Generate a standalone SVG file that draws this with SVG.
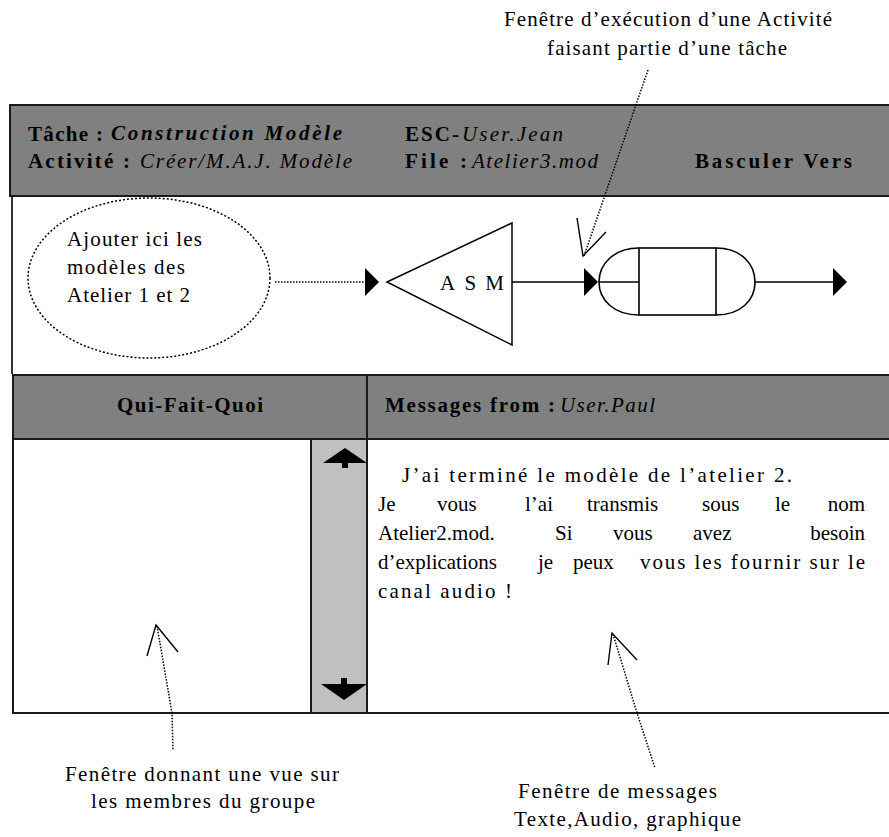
<svg xmlns="http://www.w3.org/2000/svg" width="889" height="837" viewBox="0 0 889 837">
<style>
text{font-family:"Liberation Serif","Times New Roman",serif;font-size:21px;fill:#000}
.b{font-weight:bold}
.i{font-style:italic}
.bi{font-weight:bold;font-style:italic}
.hdr{fill:#808080;stroke:#1a1a1a;stroke-width:2}
.ln{stroke:#000;stroke-width:1.6;fill:none}
.dot{stroke:#000;stroke-width:1.5;fill:none;stroke-dasharray:1.5 1.5}
.ah{fill:#000}
.open{stroke:#000;stroke-width:1.4;fill:none}
</style>
<rect width="889" height="837" fill="#fff"/>

<g id="note-top">
<text x="668" y="26" text-anchor="middle" textLength="328">Fenêtre d’exécution d’une Activité</text>
<text x="667" y="55" text-anchor="middle" textLength="240">faisant partie d’une tâche</text>
</g>

<g id="header">
<rect class="hdr" x="10" y="105" width="885" height="91"/>
<text x="28" y="141" class="b" textLength="75">Tâche :</text>
<text x="111" y="140" class="bi" textLength="231">Construction Modèle</text>
<text x="28" y="168" class="b" textLength="102">Activité :</text>
<text x="140" y="168" class="i" font-size="19" textLength="212">Créer/M.A.J. Modèle</text>
<text x="405" y="141" class="b" textLength="54">ESC-</text>
<text x="462" y="141" class="i" font-size="19" textLength="101">User.Jean</text>
<text x="405" y="168" class="b" textLength="62">File :</text>
<text x="472" y="168" class="i" font-size="19" textLength="126">Atelier3.mod</text>
<text x="695" y="168" class="b" textLength="157">Basculer Vers</text>
</g>

<g id="exec-area">
<line class="ln" x1="12" y1="196" x2="12" y2="374" stroke-width="2"/>
</g>

<g id="ellipse-note">
<ellipse cx="149" cy="278" rx="121" ry="80" fill="none" stroke="#000" stroke-width="1.5" stroke-dasharray="2 2"/>
<text x="67" y="246" textLength="135">Ajouter ici les</text>
<text x="67" y="274" textLength="118">modèles des</text>
<text x="67" y="302" textLength="123">Atelier 1 et 2</text>
</g>

<g id="asm">
<polygon points="387,282 512,223 512,345" fill="#fff" stroke="#000" stroke-width="1.5"/>
<text x="472" y="290" text-anchor="middle" textLength="64">ASM</text>
</g>

<g id="activity">
<path class="ln" d="M639,248 C614,248 599,264 599,282 C599,300 614,315 639,315"/>
<path class="ln" d="M716,248 C741,248 755,264 755,282 C755,300 741,315 716,315"/>
<rect class="ln" x="639" y="248" width="77" height="67"/>
<line class="ln" x1="599" y1="282" x2="639" y2="282"/>
</g>

<g id="qui-fait-quoi">
<rect class="hdr" x="13" y="375" width="354" height="64"/>
<text x="190" y="412" class="b" text-anchor="middle" textLength="146">Qui-Fait-Quoi</text>
<rect x="13" y="439" width="354" height="274" fill="#fff" stroke="#1a1a1a" stroke-width="2"/>
</g>

<g id="scrollbar">
<rect x="311" y="439" width="56" height="274" fill="#c0c0c0" stroke="#1a1a1a" stroke-width="2"/>
<polygon class="ah" points="323,463 345,448 367,463"/>
<rect class="ah" x="342" y="462" width="6" height="6"/>
<polygon class="ah" points="321,684 344,700 367,684"/>
<rect class="ah" x="341" y="678" width="6" height="7"/>
</g>

<g id="messages">
<rect class="hdr" x="367" y="375" width="528" height="64"/>
<text x="385" y="412" class="b" textLength="170">Messages from :</text>
<text x="560" y="412" class="i" font-size="19" textLength="95">User.Paul</text>
<rect x="367" y="439" width="528" height="274" fill="none" stroke="#1a1a1a" stroke-width="2"/>
<text x="402" y="482" textLength="390">J’ai terminé le modèle de l’atelier 2.</text>
<text y="511"><tspan x="378">Je</tspan><tspan x="437">vous</tspan><tspan x="525">l’ai</tspan><tspan x="587">transmis</tspan><tspan x="702">sous</tspan><tspan x="775">le</tspan><tspan x="865" text-anchor="end">nom</tspan></text>
<text y="540"><tspan x="378">Atelier2.mod.</tspan><tspan x="555">Si</tspan><tspan x="613">vous</tspan><tspan x="693">avez</tspan><tspan x="865" text-anchor="end">besoin</tspan></text>
<text y="569"><tspan x="378">d’explications</tspan><tspan x="538">je</tspan><tspan x="573">peux</tspan><tspan x="640" textLength="225">vous les fournir sur le</tspan></text>
<text x="378" y="598" textLength="134">canal audio !</text>
</g>

<g id="note-bottom-left">
<text x="202" y="781" text-anchor="middle" textLength="274">Fenêtre donnant une vue sur</text>
<text x="203" y="808" text-anchor="middle" textLength="224">les membres du groupe</text>
</g>

<g id="note-bottom-right">
<text x="518" y="798" textLength="199">Fenêtre de messages</text>
<text x="514" y="826" textLength="227">Texte,Audio, graphique</text>
</g>

<g id="connectors">
<line class="dot" x1="275" y1="282" x2="365" y2="282"/>
<polygon class="ah" points="365,268 379,282 365,296"/>
<line class="ln" x1="512" y1="282" x2="585" y2="282"/>
<polygon class="ah" points="584,268 598,282 584,296"/>
<line class="ln" x1="755" y1="282" x2="834" y2="282"/>
<polygon class="ah" points="833,268 847,282 833,296"/>
<polyline class="dot" points="648,70 584,256"/>
<polyline class="open" points="577,218 583,256 606,232"/>
<polyline class="dot" points="157,626 172,713 173,750"/>
<polyline class="open" points="147,656 156,625 178,652"/>
<polyline class="dot" points="613,634 637,713 655,768"/>
<polyline class="open" points="608,665 612,633 637,660"/>
</g>
</svg>
